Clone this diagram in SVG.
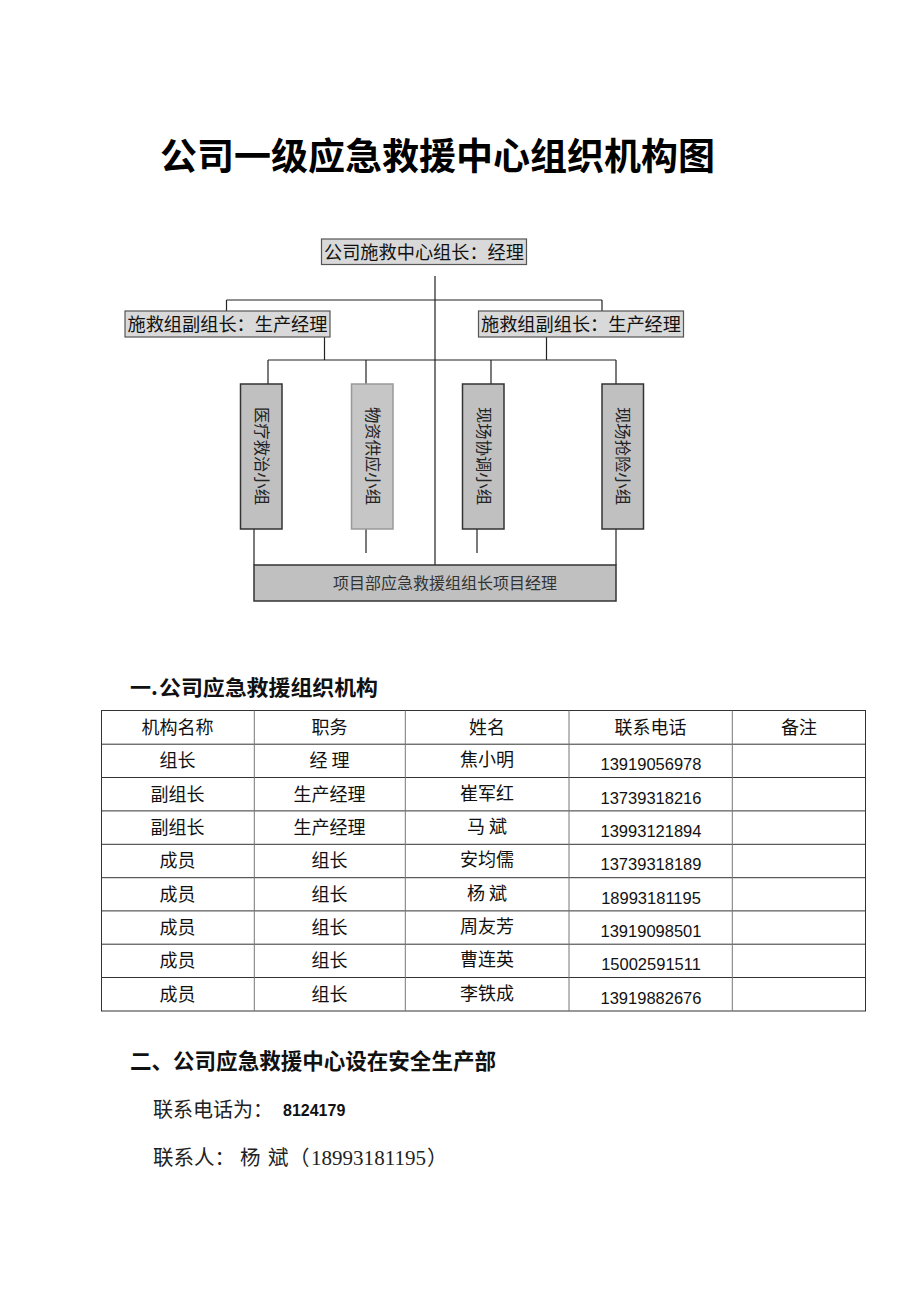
<svg xmlns="http://www.w3.org/2000/svg" width="920" height="1302" viewBox="0 0 920 1302">
<style>
.cjk{font-family:"Noto Sans CJK SC","Noto Sans",sans-serif;}
.ser{font-family:"Liberation Serif","Noto Sans CJK SC",serif;}
.hbox{fill:#d9d9d9;stroke:#555;stroke-width:1.2;}
.gbox{fill:#c0c0c0;stroke:#333;stroke-width:1.5;}
.gbox2{fill:#c6c6c6;stroke:#999;stroke-width:1.5;}
.ln{stroke:#222;stroke-width:1.2;fill:none;}
.ht{font-size:18.5px;fill:#111;text-anchor:middle;}
.vt{font-size:16px;fill:#222;text-anchor:middle;dominant-baseline:central;}
.tl{stroke:#333;stroke-width:1;}
.tv{stroke:#777;stroke-width:1;}
.tc{font-size:18px;fill:#111;text-anchor:middle;}
.tn{font-family:"Liberation Sans",sans-serif;font-size:16.5px;fill:#111;text-anchor:middle;}
</style>
<rect width="920" height="1302" fill="#fff"/>
<text class="cjk" x="437.5" y="170" font-size="37" font-weight="bold" text-anchor="middle" textLength="555" lengthAdjust="spacingAndGlyphs">公司一级应急救援中心组织机构图</text>

<g id="connectors">
<line class="ln" x1="435" y1="276" x2="435" y2="565"/>
<line class="ln" x1="226.5" y1="300" x2="602" y2="300"/>
<line class="ln" x1="226.5" y1="300" x2="226.5" y2="311"/>
<line class="ln" x1="602" y1="300" x2="602" y2="311"/>
<line class="ln" x1="324.5" y1="337" x2="324.5" y2="360"/>
<line class="ln" x1="546.5" y1="337" x2="546.5" y2="360"/>
<line class="ln" x1="268" y1="360" x2="616" y2="360"/>
<line class="ln" x1="268" y1="360" x2="268" y2="384"/>
<line class="ln" x1="366" y1="360" x2="366" y2="384"/>
<line class="ln" x1="491" y1="360" x2="491" y2="384"/>
<line class="ln" x1="616" y1="360" x2="616" y2="384"/>
<line class="ln" x1="254" y1="529" x2="254" y2="565"/>
<line class="ln" x1="366" y1="529" x2="366" y2="553"/>
<line class="ln" x1="477" y1="529" x2="477" y2="553"/>
<line class="ln" x1="616" y1="529" x2="616" y2="565"/>
</g>

<g id="n-top">
<rect class="hbox" x="321.5" y="239" width="205" height="25.5"/>
<text class="cjk ht" x="424" y="258.5" textLength="200" lengthAdjust="spacingAndGlyphs">公司施救中心组长：经理</text>
</g>
<g id="n-left">
<rect class="hbox" x="125" y="311" width="205" height="26"/>
<text class="cjk ht" x="227.5" y="330.5" textLength="200" lengthAdjust="spacingAndGlyphs">施救组副组长：生产经理</text>
</g>
<g id="n-right">
<rect class="hbox" x="478.5" y="311" width="205" height="26"/>
<text class="cjk ht" x="581" y="330.5" textLength="200" lengthAdjust="spacingAndGlyphs">施救组副组长：生产经理</text>
</g>

<g id="n-g1">
<rect class="gbox" x="240.5" y="384" width="41.5" height="145"/>
<text class="ser vt" transform="translate(261.3,456) rotate(90)" textLength="98" lengthAdjust="spacingAndGlyphs">医疗救治小组</text>
</g>
<g id="n-g2">
<rect class="gbox2" x="351.5" y="384" width="41.5" height="145"/>
<text class="ser vt" transform="translate(372.3,456) rotate(90)" textLength="98" lengthAdjust="spacingAndGlyphs">物资供应小组</text>
</g>
<g id="n-g3">
<rect class="gbox" x="462.5" y="384" width="41.5" height="145"/>
<text class="ser vt" transform="translate(483.3,456) rotate(90)" textLength="98" lengthAdjust="spacingAndGlyphs">现场协调小组</text>
</g>
<g id="n-g4">
<rect class="gbox" x="602" y="384" width="41.5" height="145"/>
<text class="ser vt" transform="translate(622.8,456) rotate(90)" textLength="98" lengthAdjust="spacingAndGlyphs">现场抢险小组</text>
</g>
<g id="n-bottom">
<rect class="gbox" x="254" y="565" width="362" height="36"/>
<text class="ser" x="445" y="589" font-size="16" fill="#333" text-anchor="middle" textLength="224" lengthAdjust="spacingAndGlyphs">项目部应急救援组组长项目经理</text>
</g>

<g id="section1">
<text class="cjk" x="130" y="694.5" font-size="21" font-weight="bold" fill="#111">一.</text>
<text class="cjk" x="159" y="694.5" font-size="21" font-weight="bold" fill="#111" textLength="219" lengthAdjust="spacingAndGlyphs">公司应急救援组织机构</text>
</g>

<g id="table">
<rect x="101.5" y="710.5" width="764" height="300.5" fill="none" stroke="#333" stroke-width="1"/>
<line class="tl" x1="101.5" y1="744.2" x2="865.5" y2="744.2"/>
<line class="tl" x1="101.5" y1="777.5" x2="865.5" y2="777.5"/>
<line class="tl" x1="101.5" y1="810.9" x2="865.5" y2="810.9"/>
<line class="tl" x1="101.5" y1="844.3" x2="865.5" y2="844.3"/>
<line class="tl" x1="101.5" y1="877.7" x2="865.5" y2="877.7"/>
<line class="tl" x1="101.5" y1="910.9" x2="865.5" y2="910.9"/>
<line class="tl" x1="101.5" y1="944.2" x2="865.5" y2="944.2"/>
<line class="tl" x1="101.5" y1="977.5" x2="865.5" y2="977.5"/>
<line class="tv" x1="254.3" y1="710.5" x2="254.3" y2="1011"/>
<line class="tv" x1="405.3" y1="710.5" x2="405.3" y2="1011"/>
<line class="tv" x1="569" y1="710.5" x2="569" y2="1011"/>
<line class="tv" x1="732.3" y1="710.5" x2="732.3" y2="1011"/>

<g class="cjk tc">
<text x="177.5" y="734">机构名称</text>
<text x="329.5" y="734">职务</text>
<text x="487" y="734">姓名</text>
<text x="650.5" y="734">联系电话</text>
<text x="799" y="734">备注</text>

<text x="177.5" y="767">组长</text>
<text x="329.5" y="767" xml:space="preserve">经 理</text>
<text x="487" y="766">焦小明</text>

<text x="177.5" y="800.5">副组长</text>
<text x="329.5" y="800.5">生产经理</text>
<text x="487" y="799.5">崔军红</text>

<text x="177.5" y="834">副组长</text>
<text x="329.5" y="834">生产经理</text>
<text x="487" y="833" xml:space="preserve">马 斌</text>

<text x="177.5" y="867.3">成员</text>
<text x="329.5" y="867.3">组长</text>
<text x="487" y="866.3">安均儒</text>

<text x="177.5" y="900.6">成员</text>
<text x="329.5" y="900.6">组长</text>
<text x="487" y="899.6" xml:space="preserve">杨 斌</text>

<text x="177.5" y="934">成员</text>
<text x="329.5" y="934">组长</text>
<text x="487" y="933">周友芳</text>

<text x="177.5" y="967.3">成员</text>
<text x="329.5" y="967.3">组长</text>
<text x="487" y="966.3">曹连英</text>

<text x="177.5" y="1000.6">成员</text>
<text x="329.5" y="1000.6">组长</text>
<text x="487" y="999.6">李铁成</text>
</g>
<g class="tn">
<text x="651" y="770">13919056978</text>
<text x="651" y="803.5">13739318216</text>
<text x="651" y="837">13993121894</text>
<text x="651" y="870.3">13739318189</text>
<text x="651" y="903.6">18993181195</text>
<text x="651" y="937">13919098501</text>
<text x="651" y="970.3">15002591511</text>
<text x="651" y="1003.6">13919882676</text>
</g>
</g>

<g id="section2">
<text class="cjk" x="130" y="1068.5" font-size="21.5" font-weight="bold" fill="#111" textLength="366" lengthAdjust="spacingAndGlyphs">二、公司应急救援中心设在安全生产部</text>
<text class="ser" x="153" y="1117" font-size="20" fill="#222">联系电话为：</text>
<text x="283" y="1116" font-family="Liberation Sans, sans-serif" font-size="16" font-weight="bold" fill="#111">8124179</text>
<text class="ser" y="1165" font-size="20.5" fill="#222"><tspan x="153">联系人：</tspan><tspan x="240">杨</tspan><tspan x="268">斌</tspan><tspan x="289">（</tspan><tspan x="311" textLength="115" lengthAdjust="spacingAndGlyphs">18993181195</tspan><tspan x="427">）</tspan></text>
</g>
</svg>
